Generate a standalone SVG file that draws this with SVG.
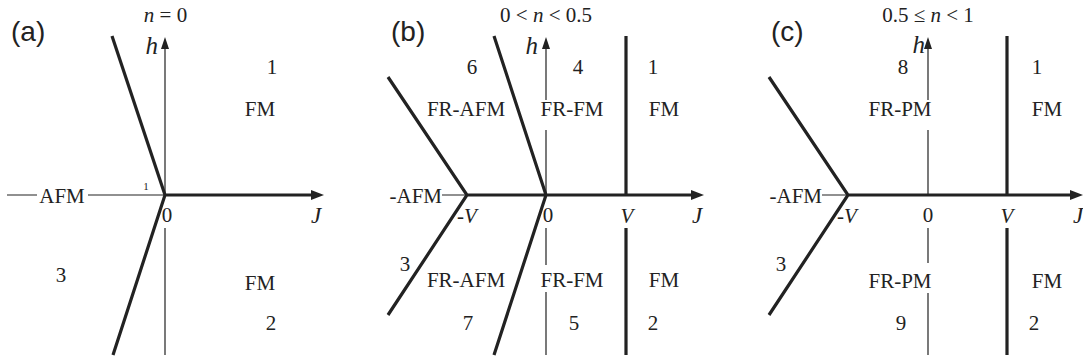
<svg xmlns="http://www.w3.org/2000/svg" width="1083" height="362" viewBox="0 0 1083 362">
<style>
text{font-family:"Liberation Serif","Times New Roman",serif;font-size:21px;fill:#222;text-anchor:middle}
.pl{font-family:"Liberation Sans",Arial,sans-serif;font-size:28px;text-anchor:start}
.it{font-style:italic}
.hl{font-style:italic;font-size:25px;text-anchor:end}
.jl{font-style:italic;font-size:23px}
.thin{stroke:#222;stroke-width:1.2;fill:none}
.thick{stroke:#222;stroke-width:3.2;fill:none}
.ah{fill:#222}
</style>
<rect width="1083" height="362" fill="#fff"/>
<g id="connectors">
<!-- panel a -->
<path class="thin" d="M7 195H37M88 195H165M165 47V195M165 228V355"/>
<path class="thick" d="M165 195H313M112 36L165 195L113 355"/>
<polygon class="ah" points="165,37 161,49 169,49"/>
<polygon class="ah" points="324,195 311,190 311,200"/>
<!-- panel b -->
<path class="thin" d="M442 195H467M546 47V100M546 130V195M546 228V265M546 292V355"/>
<path class="thick" d="M467 195H693M388 77L467 195L388 315M494 36L546 195L494 355M626 36V195M626 228V355"/>
<polygon class="ah" points="546,37 542,49 550,49"/>
<polygon class="ah" points="704,195 691,190 691,200"/>
<!-- panel c -->
<path class="thin" d="M822 195H848M928 47V100M928 130V195M928 228V263M928 293V355"/>
<path class="thick" d="M848 195H1072M769 77L848 195L769 315M1007 36V195M1007 228V355"/>
<polygon class="ah" points="928,37 924,49 932,49"/>
<polygon class="ah" points="1083,195 1070,190 1070,200"/>
</g>
<g id="panel-a">
<text class="pl" x="11" y="41">(a)</text>
<text x="165.5" y="22"><tspan class="it">n</tspan> = 0</text>
<text class="hl" x="158" y="54">h</text>
<text class="jl" x="316" y="223">J</text>
<text x="167" y="222">0</text>
<text x="146" y="190" style="font-size:11px">1</text>
</g>
<g id="a-region1"><text x="272" y="74">1</text><text x="260" y="116">FM</text></g>
<g id="a-region2"><text x="260" y="290">FM</text><text x="271" y="330">2</text></g>
<g id="a-region3"><text x="62" y="203">AFM</text><text x="61" y="282">3</text></g>
<g id="panel-b">
<text class="pl" x="391" y="41">(b)</text>
<text x="546" y="22">0 &lt; <tspan class="it">n</tspan> &lt; 0.5</text>
<text class="hl" x="538" y="54">h</text>
<text class="it" x="467" y="223">-V</text>
<text x="548" y="222">0</text>
<text class="it" x="627" y="223">V</text>
<text class="jl" x="697" y="223">J</text>
</g>
<g id="b-region6"><text x="472" y="74">6</text><text x="466" y="116">FR-AFM</text></g>
<g id="b-region4"><text x="578" y="74">4</text><text x="572" y="116">FR-FM</text></g>
<g id="b-region1"><text x="653" y="74">1</text><text x="664" y="116">FM</text></g>
<g id="b-region3"><text x="442" y="203" style="text-anchor:end">-AFM</text><text x="405" y="271">3</text></g>
<g id="b-region7"><text x="466" y="287">FR-AFM</text><text x="468" y="330">7</text></g>
<g id="b-region5"><text x="572" y="287">FR-FM</text><text x="574" y="330">5</text></g>
<g id="b-region2"><text x="664" y="287">FM</text><text x="653" y="330">2</text></g>
<g id="panel-c">
<text class="pl" x="771" y="41">(c)</text>
<text x="928" y="22">0.5 ≤ <tspan class="it">n</tspan> &lt; 1</text>
<text class="hl" x="925" y="53">h</text>
<text class="it" x="847" y="223">-V</text>
<text x="928" y="222">0</text>
<text class="it" x="1007" y="223">V</text>
<text class="jl" x="1073" y="223" style="text-anchor:start">J</text>
</g>
<g id="c-region8"><text x="903" y="74">8</text><text x="900" y="116">FR-PM</text></g>
<g id="c-region1"><text x="1037" y="74">1</text><text x="1047" y="116">FM</text></g>
<g id="c-region3"><text x="822" y="203" style="text-anchor:end">-AFM</text><text x="781" y="271">3</text></g>
<g id="c-region9"><text x="900" y="288">FR-PM</text><text x="901" y="330">9</text></g>
<g id="c-region2"><text x="1047" y="288">FM</text><text x="1034" y="330">2</text></g>
</svg>
